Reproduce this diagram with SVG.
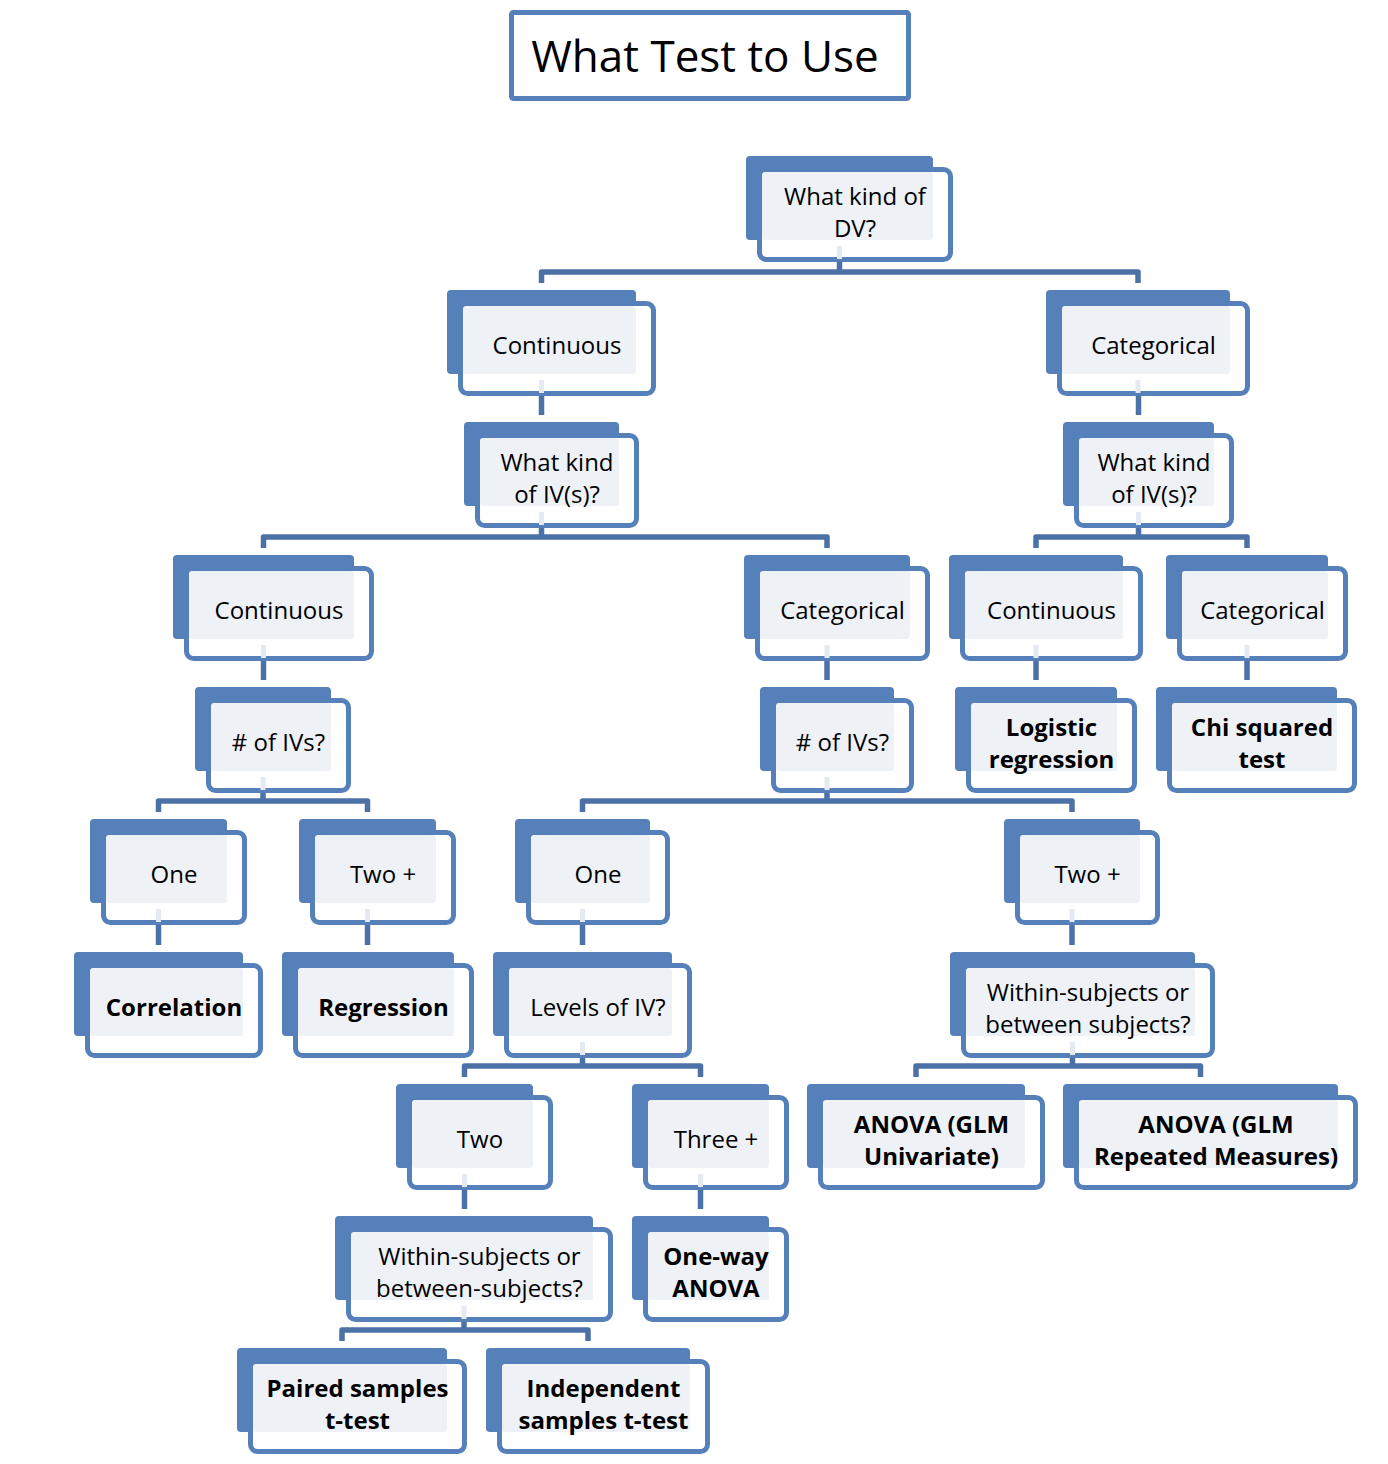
<svg xmlns="http://www.w3.org/2000/svg" width="1388" height="1464" viewBox="0 0 1388 1464">
<style>
.bk{fill:#5580BA}
.fr{fill:#FFFFFF;stroke:#5580BA;stroke-width:5}
.lt{fill:#EEF1F6}
.t{font-family:"Open Sans","Noto Sans","DejaVu Sans",sans-serif;font-size:24px;fill:#000;text-anchor:middle}
.b{font-weight:bold}
.c{fill:none;stroke:#4C71A6;stroke-width:5.5;stroke-linejoin:round}
.ls{fill:none;stroke:#E4E9F2;stroke-width:5}
</style>
<rect width="1388" height="1464" fill="#FFFFFF"/>
<g id="title">
<rect x="511.5" y="12.5" width="397" height="86" rx="2" fill="#FFFFFF" stroke="#5580BA" stroke-width="5"/>
<text x="705" y="72" style="font-family:'Open Sans','Noto Sans',sans-serif;font-size:44px;fill:#000;text-anchor:middle">What Test to Use</text>
</g>
<g id="nodes">
<g id="n-dv"><rect class="bk" x="746" y="156" width="187" height="84" rx="4"/><rect class="fr" x="759.5" y="169.5" width="191" height="90" rx="7"/><rect class="lt" x="762" y="172" width="171" height="68" rx="3"/><text class="t" x="855" y="204.5">What kind of</text><text class="t" x="855" y="236.5">DV?</text></g>
<g id="n-cont1"><rect class="bk" x="447" y="290" width="189" height="84" rx="4"/><rect class="fr" x="460.5" y="303.5" width="193" height="90" rx="7"/><rect class="lt" x="463" y="306" width="173" height="68" rx="3"/><text class="t" x="557" y="354">Continuous</text></g>
<g id="n-cat1"><rect class="bk" x="1046" y="290" width="184" height="84" rx="4"/><rect class="fr" x="1059.5" y="303.5" width="188" height="90" rx="7"/><rect class="lt" x="1062" y="306" width="168" height="68" rx="3"/><text class="t" x="1153.5" y="354">Categorical</text></g>
<g id="n-ivl"><rect class="bk" x="464" y="422" width="155" height="84" rx="4"/><rect class="fr" x="477.5" y="435.5" width="159" height="90" rx="7"/><rect class="lt" x="480" y="438" width="139" height="68" rx="3"/><text class="t" x="557" y="470.5">What kind</text><text class="t" x="557" y="502.5">of IV(s)?</text></g>
<g id="n-ivr"><rect class="bk" x="1063" y="422" width="151" height="84" rx="4"/><rect class="fr" x="1076.5" y="435.5" width="155" height="90" rx="7"/><rect class="lt" x="1079" y="438" width="135" height="68" rx="3"/><text class="t" x="1154" y="470.5">What kind</text><text class="t" x="1154" y="502.5">of IV(s)?</text></g>
<g id="n-cont2l"><rect class="bk" x="173" y="555" width="181" height="84" rx="4"/><rect class="fr" x="186.5" y="568.5" width="185" height="90" rx="7"/><rect class="lt" x="189" y="571" width="165" height="68" rx="3"/><text class="t" x="279" y="619">Continuous</text></g>
<g id="n-cat2m"><rect class="bk" x="744" y="555" width="166" height="84" rx="4"/><rect class="fr" x="757.5" y="568.5" width="170" height="90" rx="7"/><rect class="lt" x="760" y="571" width="150" height="68" rx="3"/><text class="t" x="842.5" y="619">Categorical</text></g>
<g id="n-cont2r"><rect class="bk" x="949" y="555" width="174" height="84" rx="4"/><rect class="fr" x="962.5" y="568.5" width="178" height="90" rx="7"/><rect class="lt" x="965" y="571" width="158" height="68" rx="3"/><text class="t" x="1051.5" y="619">Continuous</text></g>
<g id="n-cat2r"><rect class="bk" x="1166" y="555" width="162" height="84" rx="4"/><rect class="fr" x="1179.5" y="568.5" width="166" height="90" rx="7"/><rect class="lt" x="1182" y="571" width="146" height="68" rx="3"/><text class="t" x="1262.5" y="619">Categorical</text></g>
<g id="n-nivl"><rect class="bk" x="195" y="687" width="136" height="84" rx="4"/><rect class="fr" x="208.5" y="700.5" width="140" height="90" rx="7"/><rect class="lt" x="211" y="703" width="120" height="68" rx="3"/><text class="t" x="278.5" y="751">#&#160;of IVs?</text></g>
<g id="n-nivm"><rect class="bk" x="760" y="687" width="134" height="84" rx="4"/><rect class="fr" x="773.5" y="700.5" width="138" height="90" rx="7"/><rect class="lt" x="776" y="703" width="118" height="68" rx="3"/><text class="t" x="842.5" y="751">#&#160;of IVs?</text></g>
<g id="n-logistic"><rect class="bk" x="955" y="687" width="162" height="84" rx="4"/><rect class="fr" x="968.5" y="700.5" width="166" height="90" rx="7"/><rect class="lt" x="971" y="703" width="146" height="68" rx="3"/><text class="t b" x="1051.5" y="735.5">Logistic</text><text class="t b" x="1051.5" y="767.5">regression</text></g>
<g id="n-chi"><rect class="bk" x="1156" y="687" width="181" height="84" rx="4"/><rect class="fr" x="1169.5" y="700.5" width="185" height="90" rx="7"/><rect class="lt" x="1172" y="703" width="165" height="68" rx="3"/><text class="t b" x="1262" y="735.5">Chi squared</text><text class="t b" x="1262" y="767.5">test</text></g>
<g id="n-onel"><rect class="bk" x="90" y="819" width="137" height="84" rx="4"/><rect class="fr" x="103.5" y="832.5" width="141" height="90" rx="7"/><rect class="lt" x="106" y="835" width="121" height="68" rx="3"/><text class="t" x="174" y="883">One</text></g>
<g id="n-twol"><rect class="bk" x="299" y="819" width="137" height="84" rx="4"/><rect class="fr" x="312.5" y="832.5" width="141" height="90" rx="7"/><rect class="lt" x="315" y="835" width="121" height="68" rx="3"/><text class="t" x="383" y="883">Two +</text></g>
<g id="n-onem"><rect class="bk" x="515" y="819" width="135" height="84" rx="4"/><rect class="fr" x="528.5" y="832.5" width="139" height="90" rx="7"/><rect class="lt" x="531" y="835" width="119" height="68" rx="3"/><text class="t" x="598" y="883">One</text></g>
<g id="n-twor"><rect class="bk" x="1004" y="819" width="136" height="84" rx="4"/><rect class="fr" x="1017.5" y="832.5" width="140" height="90" rx="7"/><rect class="lt" x="1020" y="835" width="120" height="68" rx="3"/><text class="t" x="1087.5" y="883">Two +</text></g>
<g id="n-corr"><rect class="bk" x="74" y="952" width="169" height="84" rx="4"/><rect class="fr" x="87.5" y="965.5" width="173" height="90" rx="7"/><rect class="lt" x="90" y="968" width="153" height="68" rx="3"/><text class="t b" x="174" y="1016">Correlation</text></g>
<g id="n-reg"><rect class="bk" x="282" y="952" width="172" height="84" rx="4"/><rect class="fr" x="295.5" y="965.5" width="176" height="90" rx="7"/><rect class="lt" x="298" y="968" width="156" height="68" rx="3"/><text class="t b" x="383.5" y="1016">Regression</text></g>
<g id="n-levels"><rect class="bk" x="493" y="952" width="179" height="84" rx="4"/><rect class="fr" x="506.5" y="965.5" width="183" height="90" rx="7"/><rect class="lt" x="509" y="968" width="163" height="68" rx="3"/><text class="t" x="598" y="1016">Levels of IV?</text></g>
<g id="n-withinr"><rect class="bk" x="950" y="952" width="245" height="84" rx="4"/><rect class="fr" x="963.5" y="965.5" width="249" height="90" rx="7"/><rect class="lt" x="966" y="968" width="229" height="68" rx="3"/><text class="t" x="1088" y="1000.5">Within-subjects or</text><text class="t" x="1088" y="1032.5">between subjects?</text></g>
<g id="n-two"><rect class="bk" x="396" y="1084" width="137" height="84" rx="4"/><rect class="fr" x="409.5" y="1097.5" width="141" height="90" rx="7"/><rect class="lt" x="412" y="1100" width="121" height="68" rx="3"/><text class="t" x="480" y="1148">Two</text></g>
<g id="n-three"><rect class="bk" x="632" y="1084" width="137" height="84" rx="4"/><rect class="fr" x="645.5" y="1097.5" width="141" height="90" rx="7"/><rect class="lt" x="648" y="1100" width="121" height="68" rx="3"/><text class="t" x="716" y="1148">Three +</text></g>
<g id="n-anovau"><rect class="bk" x="807" y="1084" width="218" height="84" rx="4"/><rect class="fr" x="820.5" y="1097.5" width="222" height="90" rx="7"/><rect class="lt" x="823" y="1100" width="202" height="68" rx="3"/><text class="t b" x="931.5" y="1132.5">ANOVA (GLM</text><text class="t b" x="931.5" y="1164.5">Univariate)</text></g>
<g id="n-anovarm"><rect class="bk" x="1063" y="1084" width="275" height="84" rx="4"/><rect class="fr" x="1076.5" y="1097.5" width="279" height="90" rx="7"/><rect class="lt" x="1079" y="1100" width="259" height="68" rx="3"/><text class="t b" x="1216" y="1132.5">ANOVA (GLM</text><text class="t b" x="1216" y="1164.5">Repeated Measures)</text></g>
<g id="n-withinl"><rect class="bk" x="335" y="1216" width="258" height="84" rx="4"/><rect class="fr" x="348.5" y="1229.5" width="262" height="90" rx="7"/><rect class="lt" x="351" y="1232" width="242" height="68" rx="3"/><text class="t" x="479.5" y="1264.5">Within-subjects or</text><text class="t" x="479.5" y="1296.5">between-subjects?</text></g>
<g id="n-oneway"><rect class="bk" x="632" y="1216" width="137" height="84" rx="4"/><rect class="fr" x="645.5" y="1229.5" width="141" height="90" rx="7"/><rect class="lt" x="648" y="1232" width="121" height="68" rx="3"/><text class="t b" x="716" y="1264.5">One-way</text><text class="t b" x="716" y="1296.5">ANOVA</text></g>
<g id="n-paired"><rect class="bk" x="237" y="1348" width="210" height="84" rx="4"/><rect class="fr" x="250.5" y="1361.5" width="214" height="90" rx="7"/><rect class="lt" x="253" y="1364" width="194" height="68" rx="3"/><text class="t b" x="357.5" y="1396.5">Paired samples</text><text class="t b" x="357.5" y="1428.5">t-test</text></g>
<g id="n-indep"><rect class="bk" x="486" y="1348" width="204" height="84" rx="4"/><rect class="fr" x="499.5" y="1361.5" width="208" height="90" rx="7"/><rect class="lt" x="502" y="1364" width="188" height="68" rx="3"/><text class="t b" x="603.5" y="1396.5">Independent</text><text class="t b" x="603.5" y="1428.5">samples t-test</text></g>
</g>
<g id="connectors">
<path class="ls" d="M839.5,246V259M541.5,380V393M1138,380V393M541.5,512V525M1138.5,512V525M263.5,645V658M827,645V658M1036,645V658M1247,645V658M263,777V790M827,777V790M158.5,909V922M367.5,909V922M582.5,909V922M1072,909V922M582.5,1042V1055M1072.5,1042V1055M464.5,1174V1187M700.5,1174V1187M464,1306V1319"/>
<path class="c" d="M839.5,262V272M541.5,283V272H1138V283"/>
<path class="c" d="M541.5,396V415"/>
<path class="c" d="M1138.5,396V415"/>
<path class="c" d="M541.5,528V537M263.5,548V537H827V548"/>
<path class="c" d="M1138.5,528V537M1036,548V537H1247V548"/>
<path class="c" d="M263.5,661V680"/>
<path class="c" d="M827,661V680"/>
<path class="c" d="M1036,661V680"/>
<path class="c" d="M1247,661V680"/>
<path class="c" d="M263,793V801M158.5,812V801H367.5V812"/>
<path class="c" d="M827,793V801M582.5,812V801H1072V812"/>
<path class="c" d="M158.5,925V945"/>
<path class="c" d="M367.5,925V945"/>
<path class="c" d="M582.5,925V945"/>
<path class="c" d="M1072,925V945"/>
<path class="c" d="M582.5,1058V1066M464.5,1077V1066H700.5V1077"/>
<path class="c" d="M1072.5,1058V1066M916,1077V1066H1200.5V1077"/>
<path class="c" d="M464.5,1190V1209"/>
<path class="c" d="M700.5,1190V1209"/>
<path class="c" d="M464,1322V1330M342,1341V1330H588V1341"/>
</g>
</svg>
